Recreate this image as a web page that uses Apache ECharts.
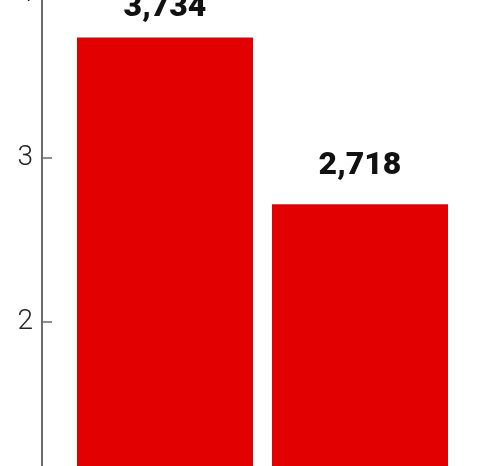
<!DOCTYPE html>
<html>
<head>
<meta charset="utf-8">
<script src="https://cdn.jsdelivr.net/npm/echarts@6/dist/echarts.min.js"></script>
<style>
  html, body { margin: 0; padding: 0; background: #fff; }
  #chart { width: 498px; height: 466px; }
</style>
</head>
<body>
<div id="chart"></div>
<script>
// values in thousands
const categories = ['A', 'B'];
const values = [3.734, 2.718];
const valueLabels = ['3,734', '2,718'];
const yTicks = [0, 1, 2, 3, 4];

// label gap above each bar (px)
const labelGaps = [14, 22];

const chart = echarts.init(document.getElementById('chart'));

const option = {
    animation: false,
    grid: {
        left: 67.5,
        right: 40.5,
        top: -6,
        bottom: -184,
        outerBoundsMode: 'none',
        containLabel: false
    },
    xAxis: {
        type: 'category',
        data: categories,
        axisLine: { show: false },
        axisTick: { show: false },
        axisLabel: { show: false }
    },
    yAxis: {
        type: 'value',
        min: yTicks[0],
        max: yTicks[yTicks.length - 1],
        interval: 1,
        offset: 25.5,
        splitLine: { show: false },
        axisLine: {
            show: true,
            lineStyle: { color: '#6b6b6b', width: 2 }
        },
        axisTick: {
            show: true,
            inside: true,
            length: 10,
            lineStyle: { color: '#6b6b6b', width: 1.5 }
        },
        axisLabel: {
            margin: 9,
            color: '#222',
            fontFamily: 'Roboto',
            fontWeight: 300,
            fontSize: 28,
            showMaxLabel: true,
            hideOverlap: false,
            formatter: v => String(v)
        }
    },
    series: [
        {
            type: 'bar',
            data: values.map((v, i) => ({ value: v, label: { distance: labelGaps[i] } })),
            barWidth: 176,
            itemStyle: { color: '#e30000' },
            label: {
                show: true,
                position: 'top',
                color: '#111',
                fontFamily: 'Roboto',
                fontWeight: 900,
                fontSize: 32,
                formatter: p => valueLabels[p.dataIndex]
            }
        }
    ]
};

chart.setOption(option);
</script>
</body>
</html>
